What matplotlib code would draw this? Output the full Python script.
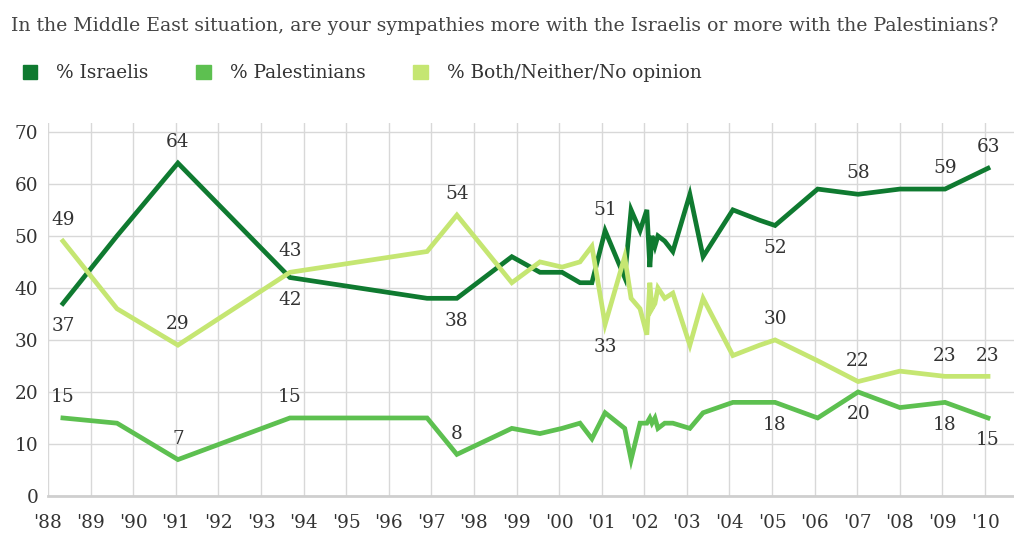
import matplotlib
matplotlib.use("Agg")
import matplotlib.pyplot as plt
from matplotlib.patches import Patch

# survey dates (decimal years) and shares in %
years = [1988.35, 1989.62, 1991.05, 1993.68, 1996.90, 1997.60, 1998.89, 1999.55,
         2000.07, 2000.49, 2000.77, 2001.08, 2001.54, 2001.69, 2001.90, 2002.06,
         2002.13, 2002.18, 2002.25, 2002.32, 2002.48, 2002.67, 2003.07, 2003.38,
         2004.08, 2004.71, 2005.07, 2006.07, 2007.02, 2008.00, 2009.06, 2010.07]
israelis = [37, 50, 64, 42, 38, 38, 46, 43, 43, 41, 41, 51, 42, 55, 51, 55,
            44, 50, 48, 50, 49, 47, 58, 46, 55, 53, 52, 59, 58, 59, 59, 63]
palestinians = [15, 14, 7, 15, 15, 8, 13, 12, 13, 14, 11, 16, 13, 7, 14, 14,
                15, 14, 15, 13, 14, 14, 13, 16, 18, 18, 18, 15, 20, 17, 18, 15]
both_neither = [49, 36, 29, 43, 47, 54, 41, 45, 44, 45, 48, 33, 46, 38, 36, 31,
                41, 36, 37, 40, 38, 39, 29, 38, 27, 29, 30, 26, 22, 24, 23, 23]

series_names = ["% Israelis", "% Palestinians", "% Both/Neither/No opinion"]
tick_years = list(range(1988, 2011))
tick_labels = ["'%02d" % (y % 100) for y in tick_years]

# which points carry a value label (index lists), above or below the line
isr_above, isr_below = [2, 11, 28, 30, 31], [0, 3, 5, 26]
pal_above, pal_below = [0, 2, 3, 5], [26, 28, 30, 31]
both_above, both_below = [0, 2, 3, 5, 26, 28, 30, 31], [11]

colors = ["#0f7a30", "#5dc050", "#c5e672"]
serif = "DejaVu Serif"
txt = "#333333"
fs = 13.3

fig = plt.figure(figsize=(10.14, 5.39), dpi=100)
ax = fig.add_axes([48 / 1014, 43 / 539, 966 / 1014, 373 / 539])

for vals, c in zip([israelis, palestinians, both_neither], colors):
    ax.plot(years, vals, color=c, lw=3.4, solid_joinstyle="miter", zorder=3)

def label(vals, idx, above):
    for i in idx:
        ax.annotate(str(vals[i]), (years[i], vals[i]),
                    xytext=(0, 15 if above else -16), textcoords="offset points",
                    ha="center", va="center", fontsize=fs, family=serif,
                    color=txt, zorder=5)

label(israelis, isr_above, True)
label(israelis, isr_below, False)
label(palestinians, pal_above, True)
label(palestinians, pal_below, False)
label(both_neither, both_above, True)
label(both_neither, both_below, False)

ax.set_xlim(1988, 2010.68)
ax.set_ylim(0, 71.7)
ax.set_xticks(tick_years)
ax.set_xticklabels(tick_labels)
ax.set_yticks(range(0, 71, 10))
ax.tick_params(length=0, labelsize=fs, colors=txt)
ax.tick_params(axis="y", pad=7)
ax.tick_params(axis="x", pad=13)
for lab in ax.get_xticklabels() + ax.get_yticklabels():
    lab.set_family(serif)

ax.grid(True, color="#d8d8d8", lw=1)
ax.set_axisbelow(True)
for s in ["top", "right", "left"]:
    ax.spines[s].set_visible(False)
ax.spines["bottom"].set_color("#cfcfcf")
ax.spines["bottom"].set_linewidth(2)

fig.text(11 / 1014, 1 - 26 / 539,
         "In the Middle East situation, are your sympathies more with the Israelis or more with the Palestinians?",
         ha="left", va="center", fontsize=13.6, family=serif, color="#444444")

handles = [Patch(color=c) for c in colors]
fig.legend(handles, series_names, loc="center left",
           bbox_to_anchor=(6 / 1014, 1 - 73 / 539), ncol=3, frameon=False,
           handlelength=0.8, handleheight=0.8, handletextpad=1.0,
           columnspacing=2.6, prop={"family": serif, "size": fs},
           labelcolor="#333333")

fig.savefig("out.png", dpi=100)
